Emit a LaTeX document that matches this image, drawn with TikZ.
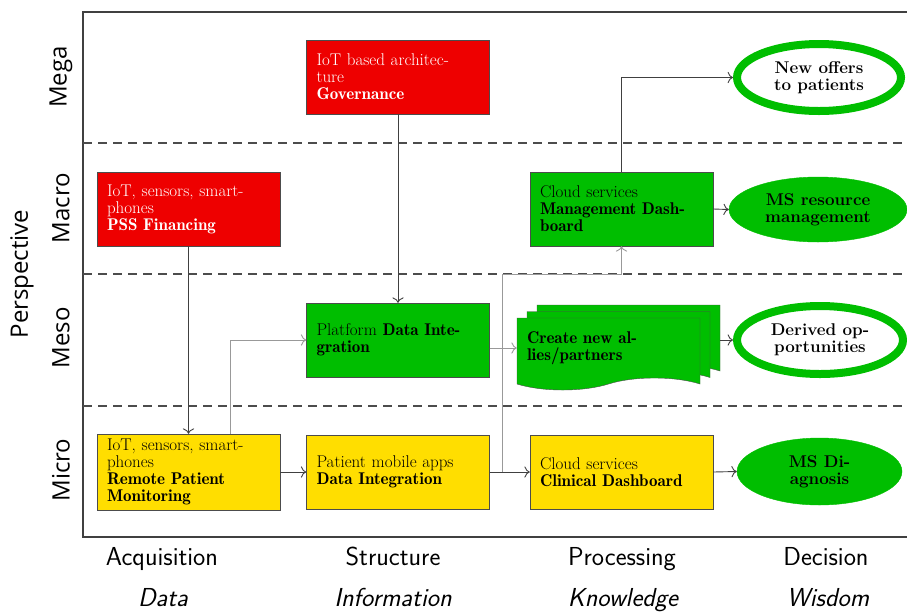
\documentclass[tikz,border=0pt]{standalone}
\usepackage{fontspec}
\newfontfamily\levelfont{Open Sans}
\newfontface\demiface{lmromandemi10-regular.otf}
\newcommand\demi[1]{{\demiface #1}}
\usepackage{tikz}
\usetikzlibrary{shapes.geometric}
\usetikzlibrary{shapes.symbols}
\usetikzlibrary{shadows}
\usetikzlibrary{arrows.meta}
\definecolor{boxred}{RGB}{238,0,0}
\definecolor{boxgreen}{RGB}{0,190,0}
\definecolor{boxyellow}{RGB}{255,222,0}

\begin{document}
\begin{tikzpicture}[x=1pt, y=-1pt,
			internal/.style={draw=black!70, rectangle, minimum width=183pt, minimum height=74pt, text width=163pt, inner xsep=10pt, inner ysep=5pt, align=left, font=\fontsize{17}{17}\selectfont},
			redbox/.style={internal, fill=boxred, text=white},
			greenbox/.style={internal, fill=boxgreen},
			yellowbox/.style={internal, fill=boxyellow},
			outcome/.style={ellipse, draw=boxgreen, align=center, inner sep=0pt, font=\fontsize{17}{17}\selectfont\bfseries},
			newout/.style={outcome, line width=8pt, fill=white},
			fixedout/.style={outcome, fill=boxgreen},
			level/.style={rotate=90, font=\levelfont\fontsize{24}{28}\selectfont},
			column/.style={anchor=base, font=\sffamily\fontsize{26}{30}\selectfont},
			link/.style={->, >={To[scale=1.5]}, black!75, line width=0.9pt},
			sublink/.style={->, >={To[scale=1.5]}, black!40, line width=0.9pt},
			band/.style={black!70, dash pattern=on 9pt off 6pt, line width=1.1pt}]
			\useasboundingbox (0,0) rectangle (907,614);
			\clip (0,0) rectangle (907,614);
			
			% frame and perspective bands
			\draw[black!75, line width=1.2pt] (915,12) -- (83,12) -- (83,537) -- (915,537);
			\draw[band] (83,143) -- (915,143);
			\draw[band] (83,274) -- (915,274);
			\draw[band] (83,406) -- (915,406);
			
			\node[level](mega) at (61,77) {Mega};
			\node[level](macro) at (61,208) {Macro};
			\node[level](meso) at (61,338) {Meso};
			\node[level](micro) at (61,470) {Micro};
			\node[level](persp) at (22,274) {Perspective};
			
			\node[column](acq) at (162,565) {Acquisition};
			\node[column](struct) at (393,565) {Structure};
			\node[column](proc) at (622,565) {Processing};
			\node[column](dec) at (826,565) {Decision};
			\node[column](data) at (163,606) {\itshape Data};
			\node[column](info) at (393,606) {\itshape Information};
			\node[column](know) at (623,606) {\itshape Knowledge};
			\node[column](wis) at (828,606) {\itshape Wisdom};
			
			% boxes
			\node[redbox](gov) at (398,77) {IoT based architec-\\ture\\\demi{Governance}};
			\node[redbox](pss) at (188.5,209) {IoT, sensors, smart-\\phones\\\demi{PSS Financing}};
			\node[greenbox](mgd) at (621.5,209) {Cloud services\\\demi{Management Dash-}\\\demi{board}};
			\node[greenbox](plat) at (398,340) {Platform \demi{Data Inte-}\\\demi{gration}};
			\node[greenbox, tape, tape bend top=none, tape bend height=12pt, minimum height=72pt,
				copy shadow={shadow xshift=20pt, shadow yshift=13pt, fill=boxgreen, draw=black!70},
				copy shadow={shadow xshift=10pt, shadow yshift=6.5pt, fill=boxgreen, draw=black!70}](allies) at (608.5,348) {\demi{Create new al-}\\\demi{lies/partners}};
			\node[yellowbox](rpm) at (188.5,472) {IoT, sensors, smart-\\phones\\\demi{Remote Patient}\\\demi{Monitoring}};
			\node[yellowbox](pdi) at (398,472) {Patient mobile apps\\\demi{Data Integration}};
			\node[yellowbox](cds) at (621.5,472) {Cloud services\\\demi{Clinical Dashboard}};
			
			% outcomes
			\node[newout, minimum width=164pt, minimum height=67pt](offers) at (819,77.5) {New offers\\to patients};
			\node[fixedout, minimum width=178pt, minimum height=65pt](resource) at (818,209.5) {MS resource\\management};
			\node[newout, minimum width=166pt, minimum height=68pt](opp) at (820,340) {Derived op-\\portunities};
			\node[fixedout, minimum width=165pt, minimum height=67pt](diag) at (819.5,471.5) {MS Di-\\agnosis};
			
			% connectors
			\draw[link] (gov.south) -- (plat.north);
			\draw[link] (pss.south) -- (rpm.north);
			\draw[sublink] ([xshift=41.5pt]rpm.north) |- (plat.west);
			\draw[link] (rpm.east) -- (pdi.west);
			\draw[link] (pdi.east) -- (cds.west);
			\coordinate (split) at (502,472);
			\coordinate (turn) at (502,274);
			\draw[sublink] (split) -- (turn) -| (mgd.south);
			\draw[sublink] (plat.east |- allies.west) -- (allies.west);
			\coordinate (alliesout) at ([xshift=20pt]allies.east);
			\draw[link] (alliesout |- opp.west) -- (opp.west);
			\draw[link] (mgd.north) |- (offers.west);
			\draw[link] (mgd.east) -- (resource.west);
			\draw[link] (cds.east) -- (diag.west);
\end{tikzpicture}
\end{document}
